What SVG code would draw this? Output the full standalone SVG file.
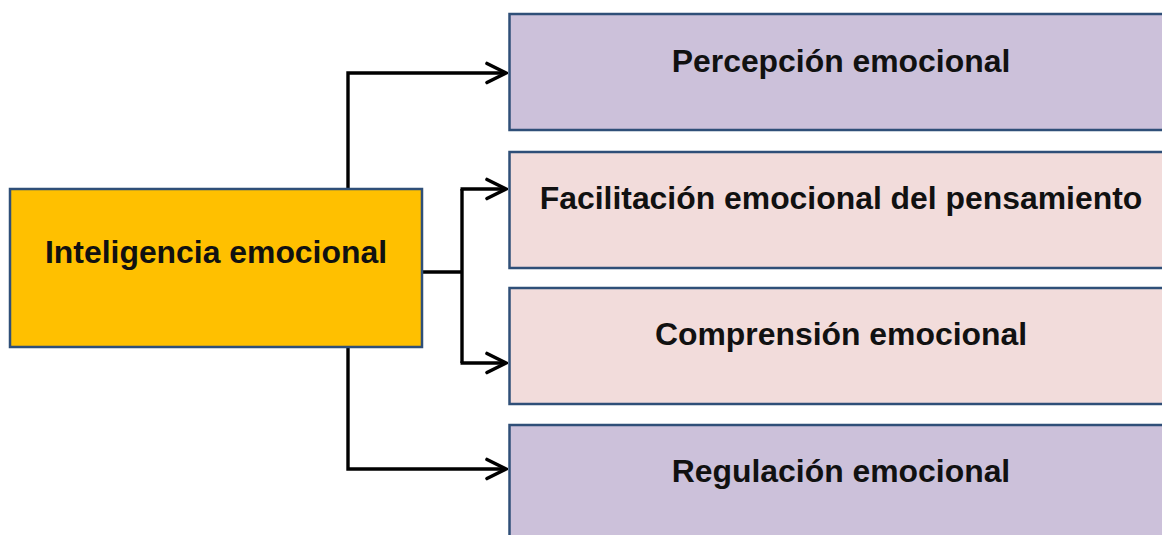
<svg xmlns="http://www.w3.org/2000/svg" width="1162" height="535" viewBox="0 0 1162 535">
<defs>
<style>
.box{stroke:#2f4f78;stroke-width:2.5}
.root{fill:#ffc000}
.pur{fill:#ccc1da}
.pink{fill:#f2dcdb}
.lbl{font-family:"Liberation Sans",Arial,sans-serif;font-weight:bold;font-size:31.9px;fill:#111;text-anchor:middle}
.con{fill:none;stroke:#000;stroke-width:3.4}
</style>
<marker id="arr" viewBox="-22 -12 24 24" markerWidth="24" markerHeight="24" refX="0" refY="0" markerUnits="userSpaceOnUse" orient="auto">
<path d="M-19,-9.5 L0,0 L-19,9.5" fill="none" stroke="#000" stroke-width="3.6" stroke-linecap="round" stroke-linejoin="miter"/>
</marker>
</defs>
<rect width="1162" height="535" fill="#fff"/>
<g id="connectors">
<path class="con" d="M348,189 V73 H506" marker-end="url(#arr)"/>
<path class="con" d="M348,347 V469 H506" marker-end="url(#arr)"/>
<path class="con" d="M422,272 H462"/>
<path class="con" d="M462,189 V363"/>
<path class="con" d="M460.5,189 H506" marker-end="url(#arr)"/>
<path class="con" d="M460.5,363 H506" marker-end="url(#arr)"/>
</g>
<g id="n-root">
<rect class="box root" x="10" y="189" width="412" height="158"/>
<text class="lbl" x="216" y="263">Inteligencia emocional</text>
</g>
<g id="n-percepcion">
<rect class="box pur" x="509.5" y="14" width="665" height="116"/>
<text class="lbl" x="841" y="72">Percepción emocional</text>
</g>
<g id="n-facilitacion">
<rect class="box pink" x="509.5" y="152" width="665" height="116"/>
<text class="lbl" x="841" y="209">Facilitación emocional del pensamiento</text>
</g>
<g id="n-comprension">
<rect class="box pink" x="509.5" y="288" width="665" height="116"/>
<text class="lbl" x="841" y="345">Comprensión emocional</text>
</g>
<g id="n-regulacion">
<rect class="box pur" x="509.5" y="425" width="665" height="130"/>
<text class="lbl" x="841" y="482">Regulación emocional</text>
</g>
</svg>
